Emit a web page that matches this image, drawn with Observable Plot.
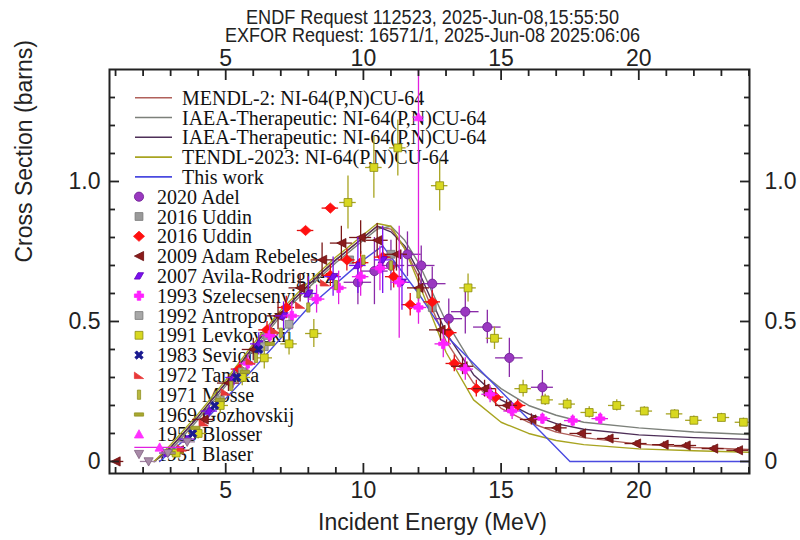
<!DOCTYPE html>
<html><head><meta charset="utf-8">
<script src="https://cdn.jsdelivr.net/npm/d3@7"></script>
<script src="https://cdn.jsdelivr.net/npm/@observablehq/plot@0.6"></script>
<style>
body{margin:0;background:#fff;}
#chart{width:800px;height:540px;}
</style></head><body><div id="chart"></div>
<script>
// ---------- text ----------
const headerLines = ["ENDF Request 112523, 2025-Jun-08,15:55:50", "EXFOR Request: 16571/1, 2025-Jun-08 2025:06:06"];
const xLabel = "Incident Energy (MeV)";
const yLabel = "Cross Section (barns)";
const xMajor = [5, 10, 15, 20];
const xMinor = [1,2,3,4,6,7,8,9,11,12,13,14,16,17,18,19,21,22,23,24];
const yMajor = [0, 0.5, 1.0];
const yMajorLabels = ["0", "0.5", "1.0"];
const yMinor = [0.1,0.2,0.3,0.4,0.6,0.7,0.8,0.9,1.1,1.2,1.3];

// ---------- evaluated curves ----------
const evalNames = ["MENDL-2: NI-64(P,N)CU-64", "IAEA-Therapeutic: NI-64(P,N)CU-64", "IAEA-Therapeutic: NI-64(P,N)CU-64", "TENDL-2023: NI-64(P,N)CU-64", "This work"];
const evalE = [2.4,3,4,5,6,7,8,9,10,10.5,11,11.5,12,13,14,15,16,17,18,20,22,24.02];
const mendl = [0,0.05,0.16,0.28,0.41,0.53,0.63,0.72,0.80,0.84,0.83,0.76,0.66,0.43,0.28,0.19,0.14,0.105,0.085,0.062,0.05,0.043];
const iaea1 = [0,0.04,0.15,0.27,0.40,0.52,0.62,0.71,0.79,0.83,0.84,0.79,0.71,0.50,0.34,0.26,0.20,0.165,0.14,0.12,0.105,0.096];
const iaea2 = [0,0.05,0.16,0.28,0.41,0.53,0.63,0.72,0.80,0.84,0.82,0.77,0.68,0.46,0.31,0.22,0.17,0.135,0.115,0.095,0.085,0.079];
const tendl = [0,0.06,0.17,0.29,0.42,0.54,0.64,0.73,0.81,0.85,0.84,0.76,0.64,0.39,0.22,0.14,0.10,0.075,0.06,0.045,0.038,0.033];
const thisWorkE = [2.6,4,6,8,10,10.7,12,13,17.5,24.02];
const thisWork = [0,0.12,0.33,0.55,0.72,0.77,0.60,0.45,0,0];

// ---------- experimental data: [E, sigma, dE, dSigma] ----------
const expNames = ["2020 Adel","2016 Uddin","2016 Uddin","2009 Adam Rebeles","2007 Avila-Rodriguez","1993 Szelecsenyi","1992 Antropov","1991 Levkovskij","1983 Sevior","1972 Tanaka","1971 Mosse","1969 Gozhovskij","1955 Blosser","1951 Blaser"];
const adel = [[9.8,0.64,0.5,0.08],[10.4,0.68,0.5,0.12],[11.0,0.70,0.5,0.09],[11.6,0.74,0.5,0.08],[12.1,0.70,0.5,0.07],[12.5,0.635,0.5,0.06],[13.1,0.51,0.5,0.07],[13.7,0.535,0.5,0.08],[14.5,0.48,0.5,0.06],[15.3,0.37,0.5,0.07],[16.5,0.265,0.4,0.06]];
const uddinA = [[6.5,0.45,0,0],[8.0,0.60,0,0],[9.5,0.72,0,0],[11.0,0.74,0,0],[12.5,0.55,0,0],[14.5,0.25,0,0]];
const uddinB = [[5.5,0.33,0.3,0.03],[6.5,0.47,0.3,0.03],[7.2,0.55,0.3,0.04],[7.9,0.825,0.3,0.01],[8.8,0.905,0.3,0.01],[8.8,0.665,0.3,0.04],[9.4,0.72,0.3,0.04],[9.9,0.71,0.3,0.04],[10.7,0.73,0.3,0.04],[11.1,0.66,0.3,0.04],[11.7,0.56,0.3,0.04],[12.5,0.57,0.3,0.04],[13.1,0.46,0.3,0.04],[13.3,0.35,0.3,0.03],[14.1,0.26,0.3,0.03],[14.8,0.23,0.3,0.03],[15.6,0.20,0.3,0.02]];
const rebeles = [[1.0,0.0,0.3,0.005],[3.3,0.04,0.4,0.01],[4.2,0.15,0.4,0.02],[5.1,0.28,0.4,0.03],[6.0,0.40,0.4,0.04],[6.9,0.52,0.4,0.05],[7.7,0.62,0.4,0.05],[8.5,0.72,0.4,0.06],[9.2,0.78,0.4,0.06],[9.9,0.80,0.4,0.06],[10.5,0.79,0.4,0.06],[11.2,0.74,0.4,0.06],[12.0,0.62,0.4,0.05],[12.8,0.47,0.4,0.04],[13.6,0.34,0.4,0.03],[14.4,0.26,0.4,0.03],[15.2,0.20,0.4,0.02],[16.1,0.15,0.4,0.02],[17.0,0.12,0.4,0.015],[17.9,0.10,0.4,0.01],[18.9,0.082,0.4,0.01],[19.9,0.064,0.4,0.01],[20.9,0.06,0.4,0.01],[21.7,0.057,0.4,0.01],[22.7,0.046,0.4,0.01],[23.6,0.04,0.4,0.01]];
const avila = [[2.9,0.03,0.3,0.01],[3.6,0.08,0.3,0.01],[4.4,0.18,0.3,0.02],[5.3,0.30,0.3,0.03],[6.2,0.42,0.3,0.04],[7.1,0.52,0.3,0.05],[8.0,0.60,0.3,0.06],[8.9,0.66,0.3,0.07],[9.8,0.70,0.3,0.10],[10.7,0.72,0.3,0.12],[11.4,0.64,0.3,0.10]];
const szel = [[5.8,0.35,0.3,0.03],[6.6,0.45,0.3,0.04],[7.4,0.52,0.3,0.05],[8.3,0.58,0.3,0.05],[9.1,0.62,0.3,0.06],[9.9,0.66,0.3,0.07],[10.6,0.69,0.3,0.08],[11.3,0.64,0.3,0.20],[12.0,0.55,0.3,0.06],[12.9,0.42,0.3,0.05],[13.7,0.33,0.3,0.04],[14.6,0.24,0.3,0.03],[15.4,0.18,0.3,0.03],[16.5,0.153,0.3,0.02],[17.6,0.146,0.3,0.02],[18.6,0.153,0.3,0.02]];
const antropov = [[4.8,0.22,0,0.01],[5.6,0.32,0,0.02],[6.4,0.41,0,0.02],[7.3,0.49,0,0.03]];
const levk = [[3.2,0.03,0.3,0.01],[4.0,0.10,0.3,0.02],[4.8,0.20,0.3,0.03],[5.6,0.30,0.3,0.03],[6.4,0.37,0.3,0.04],[7.3,0.42,0.3,0.04],[8.2,0.457,0.3,0.05],[9.44,0.925,0.3,0.095],[10.38,1.05,0.3,0.11],[11.25,1.12,0.3,0.10],[12.77,0.985,0.3,0.09],[13.8,0.62,0.3,0.05],[14.76,0.44,0.3,0.04],[15.8,0.26,0.3,0.03],[16.6,0.22,0.3,0.02],[17.4,0.205,0.3,0.02],[18.2,0.175,0.3,0.02],[19.2,0.20,0.3,0.02],[20.2,0.18,0.3,0.015],[21.3,0.17,0.3,0.015],[22.0,0.147,0.3,0.015],[23.0,0.157,0.3,0.015],[23.8,0.14,0.3,0.015]];
const sevior = [[3.8,0.10,0,0],[4.6,0.20,0,0],[5.4,0.30,0,0],[6.2,0.40,0,0]];
const tanaka = [[3.4,0.05,0,0],[4.2,0.14,0,0],[5.0,0.25,0,0],[5.9,0.36,0,0],[6.8,0.47,0,0],[7.7,0.56,0,0],[8.6,0.64,0,0]];
const mosse = [[5.2,0.27,0,0],[6.1,0.37,0,0],[7.0,0.46,0,0],[8.0,0.55,0,0],[9.0,0.63,0,0],[10.0,0.72,0,0],[11.0,0.70,0,0],[12.0,0.60,0,0]];
const gozh = [[3.0,0.03,0,0],[3.9,0.12,0,0],[4.8,0.22,0,0],[5.7,0.32,0,0],[6.6,0.42,0,0]];
const blosser = [[2.6,0.05,0.9,0.01],[12.0,1.23,0.2,0.52]];
const blaser = [[2.2,0.0,0.3,0.0],[2.9,0.03,0.3,0.01],[3.6,0.07,0.3,0.01]];

// ---------- styles ----------
function sym(draw){ return {draw(c,size){ const r=Math.sqrt(size/Math.PI); draw(c,r); }}; }
const symTriLeft = sym((c,r)=>{c.moveTo(-r,0);c.lineTo(r,-r);c.lineTo(r,r);c.closePath();});
const symTriUp = sym((c,r)=>{c.moveTo(0,-r);c.lineTo(r,r*0.8);c.lineTo(-r,r*0.8);c.closePath();});
const symTriDown = sym((c,r)=>{c.moveTo(0,r);c.lineTo(-r,-r*0.8);c.lineTo(r,-r*0.8);c.closePath();});
const symTriCorner = sym((c,r)=>{c.moveTo(-r,-r*0.6);c.lineTo(r,r*0.8);c.lineTo(-r,r*0.8);c.closePath();});
const symDiamond = sym((c,r)=>{c.moveTo(0,-r*1.1);c.lineTo(r*1.2,0);c.lineTo(0,r*1.1);c.lineTo(-r*1.2,0);c.closePath();});
const symPara = sym((c,r)=>{c.moveTo(-r,r*0.7);c.lineTo(-r*0.2,-r*0.7);c.lineTo(r,-r*0.7);c.lineTo(r*0.2,r*0.7);c.closePath();});
const symSquare = sym((c,r)=>{c.rect(-r*0.85,-r*0.85,r*1.7,r*1.7);});
const symCircle = sym((c,r)=>{c.moveTo(r,0);c.arc(0,0,r,0,2*Math.PI);});
const symPlus = sym((c,r)=>{const w=r*0.38;
  const p=[[-w,-r],[w,-r],[w,-w],[r,-w],[r,w],[w,w],[w,r],[-w,r],[-w,w],[-r,w],[-r,-w],[-w,-w]];
  c.moveTo(...p[0]); for(const q of p.slice(1)) c.lineTo(...q); c.closePath();});
const symX = sym((c,r)=>{const w=r*0.3, s=Math.SQRT1_2;
  const p=[[-w,-r],[w,-r],[w,-w],[r,-w],[r,w],[w,w],[w,r],[-w,r],[-w,w],[-r,w],[-r,-w],[-w,-w]].map(([x,y])=>[(x-y)*s,(x+y)*s]);
  c.moveTo(...p[0]); for(const q of p.slice(1)) c.lineTo(...q); c.closePath();});
const symVbar = sym((c,r)=>{c.rect(-r*0.35,-r,r*0.7,2*r);});
const symHbar = sym((c,r)=>{c.rect(-r,-r*0.35,2*r,r*0.7);});

const evalColors = ["#b0605a", "#7c807a", "#4e2f58", "#a8a420", "#4a4ae0"];
const expData = [adel, uddinA, uddinB, rebeles, avila, szel, antropov, levk, sevior, tanaka, mosse, gozh, blosser, blaser];
const expFill = ["#9a38c0", "#9a9a9a", "#ff1010", "#8b1c1c", "#7a10ee", "#ff20ff", "#a8a8a8", "#d8d820", "#1a1a90", "#e83838", "#b8b840", "#a8a830", "#ff30ff", "#a88aa8"];
const expErr  = ["#8a2aa8", "#8a8a8a", "#e01010", "#7a1818", "#7a10ee", "#e020e0", "#999999", "#a8a420", "#1a1a90", "#e03030", "#a8a830", "#a0a030", "#e020e0", "#a080a0"];
const expSym  = [symCircle, symSquare, symDiamond, symTriLeft, symPara, symPlus, symSquare, symSquare, symX, symTriCorner, symVbar, symHbar, symTriUp, symTriDown];
const expStroke = ["#6a1a90", "#777", "#ff1010", "#6a1010", "#6000c0", "#ff20ff", "#777", "#8a8a10", "#1a1a90", "#e83838", "#909020", "#909020", "#ff30ff", "#806080"];

// ---------- marks ----------
const marks = [];
const evalSets = [[evalE, mendl], [evalE, iaea1], [evalE, iaea2], [evalE, tendl], [thisWorkE, thisWork]];
evalSets.forEach(([E, S], k) => {
  marks.push(Plot.line(E.map((e,i)=>({e, s:S[i]})), {x:"e", y:"s", stroke: evalColors[k], strokeWidth: 1.4, clip: true}));
});
expData.forEach((data, k) => {
  marks.push(Plot.ruleX(data.filter(d=>d[3]>0), {x:d=>d[0], y1:d=>d[1]-d[3], y2:d=>d[1]+d[3], stroke: expErr[k], strokeWidth: 1.3, clip: true}));
  marks.push(Plot.ruleY(data.filter(d=>d[2]>0), {y:d=>d[1], x1:d=>d[0]-d[2], x2:d=>d[0]+d[2], stroke: expErr[k], strokeWidth: 1.3, clip: true}));
  marks.push(Plot.dot(data, {x:d=>d[0], y:d=>d[1], symbol: expSym[k], r: 4.6, fill: expFill[k], stroke: expStroke[k], strokeWidth: 0.8, clip: true}));
});

const sansFont = "'Liberation Sans', Arial, sans-serif";
const axisCol = "#222";
const plot = Plot.plot({
  width: 800, height: 540,
  marginTop: 69, marginBottom: 67, marginLeft: 109, marginRight: 51,
  style: {fontFamily: sansFont, fontSize: "23px", color: axisCol, background: "#fff"},
  x: {domain: [0.78, 24.02]},
  y: {domain: [-0.043, 1.4]},
  marks: [
    ...marks,
    Plot.frame({stroke: axisCol, strokeWidth: 2}),
    Plot.axisX({anchor:"bottom", ticks: xMajor, tickSize:-10, strokeWidth:1.8, tickFormat:()=>"", label:null}),
    Plot.axisX({anchor:"bottom", ticks: xMinor, tickSize:-6, strokeWidth:1.8, tickFormat:()=>"", label:null}),
    Plot.axisX({anchor:"bottom", ticks: xMajor, tickSize:0, tickPadding:8, label:null}),
    Plot.axisX({anchor:"top", ticks: xMajor, tickSize:-10, strokeWidth:1.8, tickFormat:()=>"", label:null}),
    Plot.axisX({anchor:"top", ticks: xMinor, tickSize:-6, strokeWidth:1.8, tickFormat:()=>"", label:null}),
    Plot.axisX({anchor:"top", ticks: xMajor, tickSize:0, tickPadding:4, label:null}),
    Plot.axisY({anchor:"left", ticks: yMajor, tickSize:-10, strokeWidth:1.8, tickFormat:()=>"", label:null}),
    Plot.axisY({anchor:"left", ticks: yMinor, tickSize:-6, strokeWidth:1.8, tickFormat:()=>"", label:null}),
    Plot.axisY({anchor:"left", ticks: yMajor, tickSize:0, tickPadding:9, tickFormat:(d,i)=>yMajorLabels[i], label:null}),
    Plot.axisY({anchor:"right", ticks: yMajor, tickSize:-10, strokeWidth:1.8, tickFormat:()=>"", label:null}),
    Plot.axisY({anchor:"right", ticks: yMinor, tickSize:-6, strokeWidth:1.8, tickFormat:()=>"", label:null}),
    Plot.axisY({anchor:"right", ticks: yMajor, tickSize:0, tickPadding:15, tickFormat:(d,i)=>yMajorLabels[i], label:null}),
    Plot.text([headerLines[0]], {frameAnchor:"top", dx:3, dy:-52, lineAnchor:"middle", fontSize:20, className:"hdr1"}),
    Plot.text([headerLines[1]], {frameAnchor:"top", dx:3, dy:-34, lineAnchor:"middle", fontSize:20, className:"hdr2"}),
    Plot.text([xLabel], {frameAnchor:"bottom", dx:3, dy:49, lineAnchor:"middle", fontSize:23}),
    Plot.text([yLabel], {frameAnchor:"left", dx:-85, dy:-9, rotate:-90, lineAnchor:"middle", fontSize:23})
  ]
});
document.getElementById("chart").appendChild(plot);

// condensed look for the two header lines
d3.select(plot).selectAll(".hdr1 text").attr("textLength", 373).attr("lengthAdjust", "spacingAndGlyphs");
d3.select(plot).selectAll(".hdr2 text").attr("textLength", 415).attr("lengthAdjust", "spacingAndGlyphs");

// ---------- legend overlay ----------
const svg = d3.select(plot);
const leg = svg.insert("g", ":first-child")
  .attr("font-family", "'Liberation Serif', 'Times New Roman', serif")
  .attr("font-size", 20).attr("fill", "#111").attr("text-anchor", "start");
const rowY0 = 97.7, rowStep = 19.8;
evalNames.forEach((name, i) => {
  const y = rowY0 + i * rowStep;
  leg.append("line").attr("x1", 135).attr("x2", 172).attr("y1", y).attr("y2", y).attr("stroke", evalColors[i]).attr("stroke-width", 1.6);
  leg.append("text").attr("x", 182).attr("y", y).attr("dy", "0.35em").attr("text-anchor", "start").text(name);
});
expNames.forEach((name, j) => {
  const y = rowY0 + (evalNames.length + j) * rowStep;
  leg.append("path").attr("d", d3.symbol(expSym[j], Math.PI * 4.6 * 4.6)()).attr("transform", `translate(139,${y})`)
    .attr("fill", expFill[j]).attr("stroke", expStroke[j]).attr("stroke-width", 0.8);
  leg.append("text").attr("x", 157).attr("y", y).attr("dy", "0.35em").attr("text-anchor", "start").text(name);
});
</script></body></html>
